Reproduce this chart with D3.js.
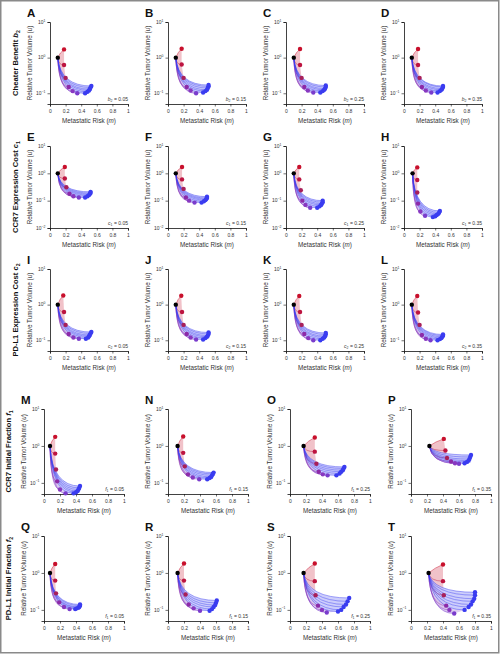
<!DOCTYPE html>
<html><head><meta charset="utf-8">
<script src="https://cdn.jsdelivr.net/npm/d3@7"></script>
<style>body{margin:0;background:#fff}svg{display:block}text{font-family:"Liberation Sans",Arial,Helvetica,sans-serif}</style>
</head><body><svg id="c" width="501" height="655"></svg>
<script>
// ---------------- DATA ----------------
const panelLetters = [["A","B","C","D"],["E","F","G","H"],["I","J","K","L"],["M","N","O","P"],["Q","R","S","T"]];
const rowLabelText = ["Cheater Benefit ","CCR7 Expression Cost ","PD-L1 Expression Cost ","CCR7 Initial Fraction ","PD-L1 Initial Fraction "];
const paramSymbol = ["b","c","c","f","f"];
const paramSub = ["2","1","2","1","1"];
const rowLabelSub = ["2","1","2","1","2"];
const paramValues = ["0.05","0.15","0.25","0.35"];
const xTickValues = [0,0.2,0.4,0.6,0.8,1];
const xTickLabels = ["0","0.2","0.4","0.6","0.8","1"];
const yTickExps = [[1,0,-1],[1,0,-1,-2],[1,0,-1],[1,0,-1],[1,0,-1]];
const yDomains = [[0.05,10],[0.01,10],[0.05,10],[0.05,10],[0.05,10]];

// start (black) points per row, per column
const startX = [[0.10,0.10,0.10,0.10],[0.10,0.10,0.10,0.11],[0.10,0.10,0.10,0.10],[0.075,0.12,0.17,0.23],[0.075,0.12,0.17,0.22]];
const startY = [[1,1,1,1],[1,1,1,1],[1,1,1,1],[1,1,1,1],[1,1,1,1]];

// end points (red -> purple -> blue) per panel
const endX_b2 = [
 [0.18,0.18,0.20,0.24,0.29,0.35,0.45,0.48,0.50,0.51,0.52,0.53],
 [0.175,0.175,0.20,0.24,0.29,0.36,0.45,0.48,0.50,0.51,0.52,0.52],
 [0.18,0.18,0.20,0.235,0.28,0.35,0.44,0.47,0.49,0.50,0.51,0.51],
 [0.18,0.18,0.20,0.23,0.28,0.35,0.43,0.46,0.48,0.49,0.50,0.50]];
const endY_b2 = [
 [1.7,0.62,0.27,0.15,0.115,0.10,0.10,0.11,0.12,0.13,0.145,0.16],
 [1.78,0.64,0.27,0.15,0.12,0.10,0.105,0.115,0.125,0.14,0.155,0.17],
 [1.75,0.62,0.27,0.15,0.12,0.105,0.105,0.115,0.125,0.135,0.15,0.165],
 [1.75,0.62,0.27,0.15,0.12,0.105,0.105,0.115,0.125,0.135,0.15,0.16]];
const endX_c1 = [
 [0.19,0.19,0.21,0.25,0.30,0.37,0.45,0.48,0.50,0.51,0.52,0.52],
 [0.18,0.18,0.20,0.23,0.27,0.34,0.43,0.46,0.48,0.49,0.50,0.50],
 [0.17,0.17,0.19,0.21,0.25,0.31,0.40,0.43,0.45,0.46,0.47,0.47],
 [0.17,0.17,0.17,0.18,0.21,0.27,0.37,0.40,0.42,0.44,0.45,0.46]];
const endY_c1 = [
 [1.7,0.65,0.31,0.18,0.145,0.13,0.13,0.145,0.16,0.175,0.19,0.21],
 [1.7,0.60,0.27,0.13,0.10,0.085,0.085,0.095,0.105,0.115,0.125,0.14],
 [1.7,0.60,0.24,0.10,0.07,0.055,0.055,0.062,0.07,0.078,0.088,0.10],
 [1.65,0.57,0.20,0.078,0.04,0.028,0.025,0.027,0.03,0.033,0.037,0.042]];
const endX_c2 = [
 [0.17,0.18,0.20,0.24,0.30,0.37,0.46,0.49,0.50,0.51,0.52,0.53],
 [0.17,0.18,0.20,0.24,0.29,0.36,0.45,0.48,0.50,0.51,0.52,0.52],
 [0.17,0.18,0.20,0.235,0.285,0.35,0.44,0.47,0.49,0.50,0.51,0.51],
 [0.17,0.18,0.20,0.23,0.28,0.34,0.43,0.46,0.48,0.49,0.50,0.50]];
const endY_c2 = [
 [1.8,0.62,0.27,0.15,0.12,0.11,0.11,0.12,0.13,0.14,0.155,0.17],
 [1.78,0.62,0.27,0.15,0.12,0.105,0.105,0.115,0.125,0.135,0.15,0.165],
 [1.75,0.62,0.27,0.15,0.115,0.10,0.10,0.11,0.12,0.13,0.145,0.16],
 [1.75,0.60,0.27,0.14,0.11,0.10,0.10,0.108,0.116,0.125,0.135,0.145]];
const endX_f1 = [
 [0.14,0.14,0.15,0.165,0.20,0.27,0.37,0.40,0.42,0.43,0.44,0.45],
 [0.19,0.19,0.21,0.25,0.31,0.39,0.49,0.52,0.54,0.55,0.56,0.57],
 [0.31,0.31,0.33,0.36,0.41,0.47,0.58,0.62,0.64,0.66,0.67,0.68],
 [0.41,0.43,0.45,0.50,0.55,0.60,0.67,0.70,0.72,0.73,0.74,0.75]];
const endY_f1 = [
 [1.76,0.62,0.23,0.11,0.066,0.052,0.052,0.056,0.06,0.066,0.073,0.082],
 [1.8,0.65,0.28,0.17,0.14,0.125,0.125,0.135,0.145,0.16,0.175,0.19],
 [1.7,0.70,0.33,0.20,0.17,0.16,0.16,0.18,0.20,0.22,0.245,0.27],
 [1.55,0.75,0.47,0.38,0.34,0.33,0.34,0.37,0.40,0.44,0.50,0.57]];
const endX_f2 = [
 [0.14,0.14,0.15,0.19,0.25,0.32,0.39,0.41,0.43,0.44,0.45,0.45],
 [0.20,0.20,0.22,0.26,0.32,0.40,0.52,0.55,0.57,0.59,0.60,0.61],
 [0.31,0.31,0.32,0.35,0.40,0.46,0.60,0.64,0.67,0.70,0.72,0.74],
 [0.40,0.40,0.41,0.44,0.48,0.54,0.67,0.72,0.75,0.77,0.79,0.80,0.80]];
const endY_f2 = [
 [1.74,0.62,0.28,0.16,0.12,0.105,0.105,0.11,0.115,0.12,0.13,0.14],
 [1.8,0.62,0.26,0.14,0.11,0.095,0.095,0.105,0.12,0.135,0.155,0.18],
 [1.8,0.60,0.25,0.13,0.10,0.085,0.09,0.10,0.12,0.14,0.17,0.21],
 [1.7,0.60,0.25,0.13,0.10,0.08,0.10,0.12,0.14,0.17,0.20,0.25,0.30]];
const endXRows = [endX_b2,endX_c1,endX_c2,endX_f1,endX_f2];
const endYRows = [endY_b2,endY_c1,endY_c2,endY_f1,endY_f2];

// ---------------- LAYOUT / STYLE ----------------
const rowGeom = [
  {top:22, bottom:104, cols:[50,168,286,404], w:78, rowLabelX:18},
  {top:146, bottom:228, cols:[50,168,286,404], w:78, rowLabelX:18},
  {top:269, bottom:351, cols:[50,168,286,404], w:78, rowLabelX:18},
  {top:409, bottom:494, cols:[44,168,290,411], w:80, rowLabelX:11},
  {top:536, bottom:621, cols:[44,168,290,411], w:80, rowLabelX:11}];
const redCols = ["#c8102c","#bd1440","#a8205a"];
const purpCols = ["#8c2aa8","#8838c0","#7a3ccc"];
const blueCol = "#3a3cf0";
function endColor(i){ return i<3 ? redCols[i] : (i<6 ? purpCols[i-3] : blueCol); }
const txtCol = "#333";

const svg = d3.select("#c");
svg.append("rect").attr("x",0.75).attr("y",0.75).attr("width",498).attr("height",652)
  .attr("fill","none").attr("stroke","#8a8a8a").attr("stroke-width",1.5);

rowGeom.forEach((g,r)=>{
  g.cols.forEach((x0,c)=>{
    const x = d3.scaleLinear().domain([0,1]).range([x0,x0+g.w]);
    const y = d3.scaleLog().domain(yDomains[r]).range([g.bottom,g.top]);
    const p = svg.append("g");
    // axes
    const xa = p.append("g").attr("transform",`translate(0,${g.bottom})`)
      .call(d3.axisBottom(x).tickValues(d3.range(0,1.001,0.1)).tickSize(1.5).tickFormat(""));
    xa.call(d3.axisBottom(x).tickValues(xTickValues).tickSize(2.5).tickFormat((d,i)=>xTickLabels[i]));
    xa.selectAll("path").attr("stroke","#111").attr("stroke-width",0.8);
    xa.selectAll("line").attr("stroke","#111").attr("stroke-width",0.6);
    xa.selectAll("text").attr("font-size",5).attr("fill",txtCol).attr("y",5.5).attr("font-family","Liberation Sans, Arial");
    const ya = p.append("g").attr("transform",`translate(${x0},0)`)
      .call(d3.axisLeft(y).tickValues(yTickExps[r].map(e=>Math.pow(10,e))).tickSize(2.5).tickFormat(""));
    ya.selectAll("path").attr("stroke","#111").attr("stroke-width",0.8);
    ya.selectAll("line").attr("stroke","#111").attr("stroke-width",0.6);
    yTickExps[r].forEach(e=>{
      const t = p.append("text").attr("x",x0-4.5).attr("y",y(Math.pow(10,e))+1.8)
        .attr("text-anchor","end").attr("font-size",5).attr("fill",txtCol);
      t.append("tspan").text("10");
      t.append("tspan").attr("font-size",3.4).attr("dy",-2.2).text(String(e).replace("-","\u2212"));
    });
    // axis titles
    const xt = p.append("text").attr("x",x0+g.w/2).attr("y",g.bottom+18.5).attr("text-anchor","middle")
      .attr("font-size",6.3).attr("fill",txtCol);
    xt.append("tspan").text("Metastatic Risk (");
    xt.append("tspan").attr("font-style","italic").text("m");
    xt.append("tspan").text(")");
    const ymid = (g.top+g.bottom)/2;
    const yt = p.append("text").attr("transform",`translate(${x0-18.5},${ymid}) rotate(-90)`)
      .attr("text-anchor","middle").attr("font-size",6.3).attr("fill",txtCol);
    yt.append("tspan").text("Relative Tumor Volume (");
    yt.append("tspan").attr("font-style","italic").text("u");
    yt.append("tspan").text(")");
    // panel letter
    p.append("text").attr("x",x0-23).attr("y",g.top-5).attr("font-size",11.5).attr("font-weight","bold")
      .attr("fill","#111").text(panelLetters[r][c]);
    // annotation
    const an = p.append("text").attr("x",x0+g.w).attr("y",g.bottom-3.5).attr("text-anchor","end")
      .attr("font-size",5).attr("fill",txtCol);
    an.append("tspan").attr("font-style","italic").text(paramSymbol[r]);
    an.append("tspan").attr("font-size",3.5).attr("dy",1.3).text(paramSub[r]);
    an.append("tspan").attr("dy",-1.3).text(" = "+paramValues[c]);

    // curves
    const sx = x(startX[r][c]), sy = y(startY[r][c]);
    const ex = endXRows[r][c], ey = endYRows[r][c];
    const pts = ex.map((v,i)=>({x:x(v), y:y(ey[i]), i}));
    const ctrl = pt => pt.y < sy ? [(sx+pt.x)/2 - 1, (sy+pt.y)/2 - 1] : [sx + 0.08*(pt.x-sx), pt.y];
    // fills between consecutive curves
    for(let i=0;i<pts.length-1;i++){
      const a=pts[i], b=pts[i+1], ca=ctrl(a), cb=ctrl(b);
      const path = d3.path();
      path.moveTo(sx,sy); path.quadraticCurveTo(ca[0],ca[1],a.x,a.y);
      path.lineTo(b.x,b.y); path.quadraticCurveTo(cb[0],cb[1],sx,sy); path.closePath();
      p.append("path").attr("d",path.toString())
        .attr("fill",d3.interpolateRgb(endColor(i),"#ffffff")(0.7)).attr("fill-opacity",0.85).attr("stroke","none");
    }
    pts.forEach(pt=>{
      const cp = ctrl(pt);
      const path = d3.path(); path.moveTo(sx,sy); path.quadraticCurveTo(cp[0],cp[1],pt.x,pt.y);
      p.append("path").attr("d",path.toString()).attr("fill","none")
        .attr("stroke",endColor(pt.i)).attr("stroke-width",0.55).attr("stroke-opacity",0.85);
    });
    p.selectAll("circle.e").data(pts).join("circle").attr("class","e")
      .attr("cx",d=>d.x).attr("cy",d=>d.y).attr("r",2.2).attr("fill",d=>endColor(d.i));
    p.append("circle").attr("cx",sx).attr("cy",sy).attr("r",2.2).attr("fill","#000");
  });
  // row label
  const g0 = g; const ymid=(g0.top+g0.bottom)/2;
  const rl = svg.append("text").attr("transform",`translate(${g0.rowLabelX},${ymid}) rotate(-90)`)
    .attr("text-anchor","middle").attr("font-size",7.6).attr("font-weight","bold").attr("fill","#111");
  rl.append("tspan").text(rowLabelText[r]);
  rl.append("tspan").attr("font-style","italic").text(paramSymbol[r]);
  rl.append("tspan").attr("font-size",5.2).attr("dy",1.8).text(rowLabelSub[r]);
});
</script></body></html>
